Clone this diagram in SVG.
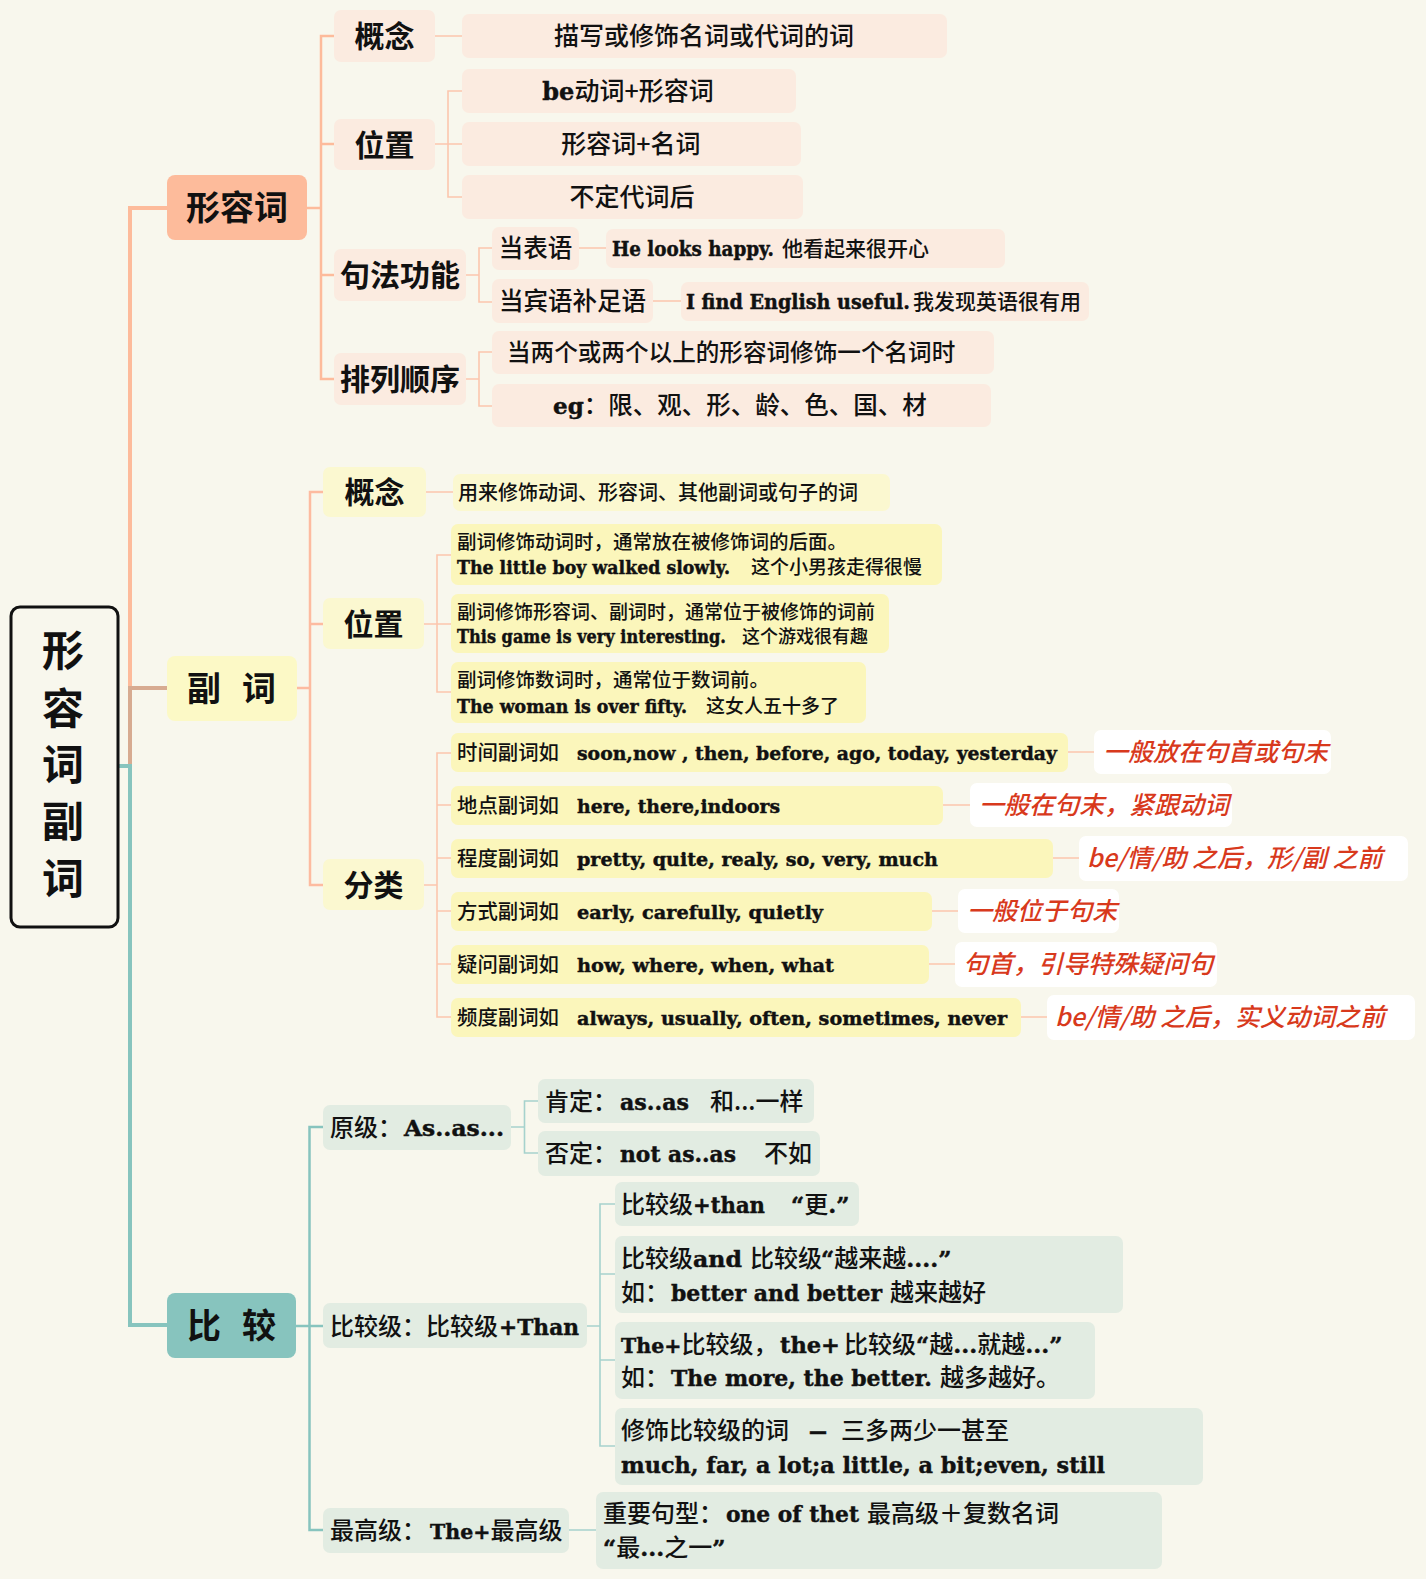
<svg xmlns="http://www.w3.org/2000/svg" width="1426" height="1579" viewBox="0 0 1426 1579">
<style>
.zh{font-family:"Noto Sans CJK SC","Noto Sans CJK JP",sans-serif;fill:#111}
.b{font-weight:700}
.m{font-weight:500}
.en{font-family:"DejaVu Serif","Noto Sans CJK SC",serif;font-weight:700;fill:#111;stroke:#111;stroke-width:0.45}
.cj{font-family:"Noto Sans CJK SC",sans-serif;font-weight:500;stroke:none}
.note{font-family:"Noto Sans CJK SC",sans-serif;font-style:italic;font-weight:500;fill:#d8391c;font-size:25px}
.fa1{fill:#fdbb9b}.fa2{fill:#fbebe0}
.fb1{fill:#fcf9c6}.fb2{fill:#fbf8d0}.fb3{fill:#fbf6bb}
.fc1{fill:#87c4be}.fc2{fill:#e2ece2}
.fn{fill:#ffffff}
.cl{fill:none;stroke-linejoin:miter}
</style>
<rect x="0" y="0" width="1426" height="1579" fill="#f8f7ed"/>

<g id="connectors">
<path class="cl" d="M167 208 H130 V688" stroke="#fdbb9b" stroke-width="4"/>
<path class="cl" d="M167 688 H130 V766" stroke="#d7ab91" stroke-width="4"/>
<path class="cl" d="M118 766 H130 V1325 H167" stroke="#87c4be" stroke-width="4"/>
<path class="cl" d="M307 208 H321 M334 36 H321 V379 H334 M321 144 H334 M321 275 H334" stroke="#fdbb9b" stroke-width="2.5"/>
<path class="cl" d="M435 36 H462 M435 144 H448 M462 91 H448 V197 H462 M448 144 H462 M466 275 H479 M492 248 H479 V302 H492 M579 248 H606 M653 301 H681 M466 379 H479 M492 352 H479 V406 H492" stroke="#fcc6ad" stroke-width="1.6"/>
<path class="cl" d="M297 688 H310 M323 492 H310 V885 H323 M310 624 H323" stroke="#fdbba0" stroke-width="2.5"/>
<path class="cl" d="M426 492 H453 M424 624 H437 M451 555 H437 V692 H451 M437 624 H451 M424 885 H437 M451 753 H437 V1017 H451 M437 805 H451 M437 858 H451 M437 911 H451 M437 964 H451 M1068 752 H1094 M943 805 H970 M1053 858 H1079 M932 911 H958 M929 964 H955 M1021 1017 H1047" stroke="#fcc6ad" stroke-width="1.6"/>
<path class="cl" d="M296 1326 H309.5 M323 1127 H309.5 V1530 H323 M309.5 1326 H323" stroke="#87c4be" stroke-width="2.5"/>
<path class="cl" d="M511 1127 H524.5 M538 1101 H524.5 V1153 H538 M587 1326 H600 M615 1204 H600 V1446 H615 M600 1274 H615 M600 1360 H615 M569 1530 H596" stroke="#a6d2cd" stroke-width="1.6"/>
</g>

<g id="root">
<rect x="11" y="607" width="107" height="320" rx="9" fill="#f8f7ed" stroke="#111" stroke-width="3"/>
<text class="zh b" font-size="42" text-anchor="middle" x="63" y="666">形</text>
<text class="zh b" font-size="42" text-anchor="middle" x="63" y="724">容</text>
<text class="zh b" font-size="42" text-anchor="middle" x="63" y="780">词</text>
<text class="zh b" font-size="42" text-anchor="middle" x="63" y="837">副</text>
<text class="zh b" font-size="42" text-anchor="middle" x="63" y="894">词</text>
</g>

<!-- 形容词 -->
<g id="adj"><rect class="fa1" x="167" y="175" width="140" height="65" rx="8"/><text class="zh b" font-size="34" text-anchor="middle" x="237" y="219.5">形容词</text></g>
<g id="adj-concept"><rect class="fa2" x="334" y="10" width="101" height="52" rx="7"/><text class="zh b" font-size="30" text-anchor="middle" x="384.5" y="47">概念</text></g>
<g id="adj-concept-1"><rect class="fa2" x="462" y="14" width="485" height="44" rx="7"/><text class="zh m" font-size="25" text-anchor="middle" x="704" y="45">描写或修饰名词或代词的词</text></g>
<g id="adj-pos"><rect class="fa2" x="334" y="119" width="101" height="51" rx="7"/><text class="zh b" font-size="30" text-anchor="middle" x="384.5" y="155.5">位置</text></g>
<g id="adj-pos-1"><rect class="fa2" x="462" y="69" width="334" height="44" rx="7"/><text class="zh m" font-size="25" text-anchor="middle" x="628" y="100"><tspan class="en" font-size="24">be</tspan>动词+形容词</text></g>
<g id="adj-pos-2"><rect class="fa2" x="462" y="122" width="339" height="44" rx="7"/><text class="zh m" font-size="25" text-anchor="middle" x="631" y="153">形容词+名词</text></g>
<g id="adj-pos-3"><rect class="fa2" x="462" y="175" width="341" height="44" rx="7"/><text class="zh m" font-size="25" text-anchor="middle" x="632" y="206">不定代词后</text></g>
<g id="adj-syn"><rect class="fa2" x="334" y="249" width="132" height="52" rx="7"/><text class="zh b" font-size="30" text-anchor="middle" x="400" y="286">句法功能</text></g>
<g id="adj-syn-1"><rect class="fa2" x="492" y="227" width="87" height="43" rx="7"/><text class="zh m" font-size="24.5" text-anchor="middle" x="535.5" y="257.3">当表语</text></g>
<g id="adj-syn-1a"><rect class="fa2" x="606" y="229" width="399" height="39" rx="7"/><text class="en" font-size="20" x="612" y="256" textLength="162" lengthAdjust="spacingAndGlyphs">He looks happy.</text><text class="zh m" font-size="21" x="782" y="256">他看起来很开心</text></g>
<g id="adj-syn-2"><rect class="fa2" x="492" y="279" width="161" height="44" rx="7"/><text class="zh m" font-size="24.5" text-anchor="middle" x="572.5" y="309.8">当宾语补足语</text></g>
<g id="adj-syn-2a"><rect class="fa2" x="681" y="282" width="408" height="39" rx="7"/><text class="en" font-size="20" x="686" y="309" textLength="224" lengthAdjust="spacingAndGlyphs">I find English useful.</text><text class="zh m" font-size="21" x="913" y="309">我发现英语很有用</text></g>
<g id="adj-order"><rect class="fa2" x="334" y="353" width="132" height="52" rx="7"/><text class="zh b" font-size="30" text-anchor="middle" x="400" y="390">排列顺序</text></g>
<g id="adj-order-1"><rect class="fa2" x="492" y="331" width="502" height="43" rx="7"/><text class="zh m" font-size="23.6" x="507" y="361">当两个或两个以上的形容词修饰一个名词时</text></g>
<g id="adj-order-2"><rect class="fa2" x="492" y="384" width="499" height="43" rx="7"/><text class="zh m" font-size="24.5" x="553" y="414"><tspan class="en" font-size="23">eg</tspan>：限、观、形、龄、色、国、材</text></g>

<!-- 副词 -->
<g id="adv"><rect class="fb1" x="167" y="656" width="130" height="65" rx="8"/><text class="zh b" font-size="34" text-anchor="middle" x="204" y="700.5">副</text><text class="zh b" font-size="34" text-anchor="middle" x="259" y="700.5">词</text></g>
<g id="adv-concept"><rect class="fb2" x="323" y="467" width="103" height="50" rx="7"/><text class="zh b" font-size="30" text-anchor="middle" x="374.5" y="503">概念</text></g>
<g id="adv-concept-1"><rect class="fb2" x="453" y="474" width="437" height="37" rx="7"/><text class="zh m" font-size="20" x="458" y="499.7">用来修饰动词、形容词、其他副词或句子的词</text></g>
<g id="adv-pos"><rect class="fb2" x="323" y="598" width="101" height="51" rx="7"/><text class="zh b" font-size="30" text-anchor="middle" x="373.5" y="634.5">位置</text></g>
<g id="adv-pos-1"><rect class="fb3" x="451" y="524" width="491" height="61" rx="7"/><text class="zh m" font-size="19.5" x="457" y="549">副词修饰动词时，通常放在被修饰词的后面。</text><text class="en" font-size="18" x="457" y="573.8" textLength="273" lengthAdjust="spacingAndGlyphs">The little boy walked slowly.</text><text class="zh m" font-size="19" x="751" y="573.8">这个小男孩走得很慢</text></g>
<g id="adv-pos-2"><rect class="fb3" x="451" y="594" width="438" height="59" rx="7"/><text class="zh m" font-size="19" x="457" y="619">副词修饰形容词、副词时，通常位于被修饰的词前</text><text class="en" font-size="18" x="457" y="642.8" textLength="269" lengthAdjust="spacingAndGlyphs">This game is very interesting.</text><text class="zh m" font-size="18" x="742" y="642.8">这个游戏很有趣</text></g>
<g id="adv-pos-3"><rect class="fb3" x="451" y="662" width="415" height="61" rx="7"/><text class="zh m" font-size="19.5" x="457" y="687">副词修饰数词时，通常位于数词前。</text><text class="en" font-size="18" x="457" y="712.8" textLength="230" lengthAdjust="spacingAndGlyphs">The woman is over fifty.</text><text class="zh m" font-size="19" x="706" y="712.8">这女人五十多了</text></g>
<g id="adv-cat"><rect class="fb2" x="323" y="859" width="101" height="51" rx="7"/><text class="zh b" font-size="30" text-anchor="middle" x="373.5" y="895.5">分类</text></g>
<g id="adv-cat-1"><rect class="fb3" x="451" y="733" width="617" height="39" rx="7"/><text class="zh m" font-size="20.4" x="457" y="760">时间副词如</text><text class="en" font-size="19" x="577" y="759.5" textLength="480" lengthAdjust="spacingAndGlyphs">soon,now , then, before, ago, today, yesterday</text></g>
<g id="adv-cat-2"><rect class="fb3" x="451" y="786" width="492" height="39" rx="7"/><text class="zh m" font-size="20.4" x="457" y="813">地点副词如</text><text class="en" font-size="19" x="577" y="812.5" textLength="203" lengthAdjust="spacingAndGlyphs">here, there,indoors</text></g>
<g id="adv-cat-3"><rect class="fb3" x="451" y="839" width="602" height="39" rx="7"/><text class="zh m" font-size="20.4" x="457" y="866">程度副词如</text><text class="en" font-size="19" x="577" y="865.5" textLength="361" lengthAdjust="spacingAndGlyphs">pretty, quite, realy, so, very, much</text></g>
<g id="adv-cat-4"><rect class="fb3" x="451" y="892" width="481" height="39" rx="7"/><text class="zh m" font-size="20.4" x="457" y="919">方式副词如</text><text class="en" font-size="19" x="577" y="918.5" textLength="246" lengthAdjust="spacingAndGlyphs">early, carefully, quietly</text></g>
<g id="adv-cat-5"><rect class="fb3" x="451" y="945" width="478" height="39" rx="7"/><text class="zh m" font-size="20.4" x="457" y="972">疑问副词如</text><text class="en" font-size="19" x="577" y="971.5" textLength="257" lengthAdjust="spacingAndGlyphs">how, where, when, what</text></g>
<g id="adv-cat-6"><rect class="fb3" x="451" y="998" width="570" height="39" rx="7"/><text class="zh m" font-size="20.4" x="457" y="1025">频度副词如</text><text class="en" font-size="19" x="577" y="1024.5" textLength="430" lengthAdjust="spacingAndGlyphs">always, usually, often, sometimes, never</text></g>
<g id="note-1"><rect class="fn" x="1094" y="730" width="237" height="44" rx="7"/><text class="note" x="1103" y="761">一般放在句首或句末</text></g>
<g id="note-2"><rect class="fn" x="970" y="783" width="262" height="44" rx="7"/><text class="note" x="979" y="814">一般在句末，紧跟动词</text></g>
<g id="note-3"><rect class="fn" x="1079" y="836" width="329" height="45" rx="7"/><text class="note" x="1087" y="867">be/情/助 之后，形/副 之前</text></g>
<g id="note-4"><rect class="fn" x="958" y="889" width="161" height="44" rx="7"/><text class="note" x="967" y="920">一般位于句末</text></g>
<g id="note-5"><rect class="fn" x="955" y="942" width="262" height="45" rx="7"/><text class="note" x="963" y="973">句首，引导特殊疑问句</text></g>
<g id="note-6"><rect class="fn" x="1047" y="995" width="368" height="45" rx="7"/><text class="note" x="1055" y="1026">be/情/助 之后，实义动词之前</text></g>

<!-- 比较 -->
<g id="cmp"><rect class="fc1" x="167" y="1293" width="129" height="65" rx="8"/><text class="zh b" font-size="34" text-anchor="middle" x="204" y="1337.5">比</text><text class="zh b" font-size="34" text-anchor="middle" x="259" y="1337.5">较</text></g>
<g id="cmp-pos"><rect class="fc2" x="323" y="1105" width="188" height="45" rx="7"/><text class="zh m" font-size="24" x="330" y="1136">原级：</text><text class="en" font-size="23" x="404" y="1136" textLength="100" lengthAdjust="spacingAndGlyphs">As..as...</text></g>
<g id="cmp-pos-1"><rect class="fc2" x="538" y="1079" width="276" height="44" rx="7"/><text class="zh m" font-size="24" x="545" y="1109.6">肯定：</text><text class="en" font-size="23" x="620" y="1109.6" textLength="69" lengthAdjust="spacingAndGlyphs">as..as</text><text class="zh m" font-size="24" x="710" y="1109.6">和...一样</text></g>
<g id="cmp-pos-2"><rect class="fc2" x="538" y="1131" width="282" height="45" rx="7"/><text class="zh m" font-size="24" x="545" y="1162">否定：</text><text class="en" font-size="23" x="620" y="1162" textLength="116" lengthAdjust="spacingAndGlyphs">not as..as</text><text class="zh m" font-size="24" x="764" y="1162">不如</text></g>
<g id="cmp-comp"><rect class="fc2" x="323" y="1303" width="264" height="45" rx="7"/><text class="zh m" font-size="24" x="330" y="1334.6">比较级：比较级</text><text class="en" font-size="23" x="499" y="1334.6" textLength="80" lengthAdjust="spacingAndGlyphs">+Than</text></g>
<g id="cmp-comp-1"><rect class="fc2" x="615" y="1182" width="244" height="44" rx="7"/><text class="zh m" font-size="24" x="621" y="1212.6">比较级</text><text class="en" font-size="23" x="693" y="1212.6" textLength="72" lengthAdjust="spacingAndGlyphs">+than</text><text class="en" font-size="23" x="791" y="1212.6">“<tspan class="cj" font-size="24">更</tspan>.”</text></g>
<g id="cmp-comp-2"><rect class="fc2" x="615" y="1236" width="508" height="77" rx="7"/><text class="zh m" font-size="24" x="621" y="1266.6">比较级</text><text class="en" font-size="23" x="693" y="1266.6" textLength="49" lengthAdjust="spacingAndGlyphs">and</text><text class="zh m" font-size="24" x="750" y="1266.6">比较级</text><text class="en" font-size="23" x="821" y="1266.6">“<tspan class="cj" font-size="24">越来越</tspan>....”</text><text class="zh m" font-size="24" x="621" y="1300.6">如：</text><text class="en" font-size="23" x="671" y="1300.6" textLength="211" lengthAdjust="spacingAndGlyphs">better and better</text><text class="zh m" font-size="24" x="890" y="1300.6">越来越好</text></g>
<g id="cmp-comp-3"><rect class="fc2" x="615" y="1322" width="480" height="77" rx="7"/><text class="en" font-size="20.5" x="621" y="1352.6">The+<tspan class="cj" font-size="24">比较级，</tspan></text><text class="en" font-size="23" x="780" y="1352.6" textLength="60" lengthAdjust="spacingAndGlyphs">the+</text><text class="zh m" font-size="24" x="844" y="1352.6">比较级</text><text class="en" font-size="23" x="916" y="1352.6">“<tspan class="cj" font-size="24">越</tspan>...<tspan class="cj" font-size="24">就越</tspan>...”</text><text class="zh m" font-size="24" x="621" y="1385.6">如：</text><text class="en" font-size="23" x="671" y="1385.6" textLength="261" lengthAdjust="spacingAndGlyphs">The more, the better.</text><text class="zh m" font-size="24" x="940" y="1385.6">越多越好。</text></g>
<g id="cmp-comp-4"><rect class="fc2" x="615" y="1408" width="588" height="77" rx="7"/><text class="zh m" font-size="24" x="621" y="1438.6">修饰比较级的词</text><text class="en" font-size="23" x="809" y="1438.6" textLength="18" lengthAdjust="spacingAndGlyphs">—</text><text class="zh m" font-size="24" x="841" y="1438.6">三多两少一甚至</text><text class="en" font-size="23" x="621" y="1472.6" textLength="484" lengthAdjust="spacingAndGlyphs">much, far, a lot;a little, a bit;even, still</text></g>
<g id="cmp-sup"><rect class="fc2" x="323" y="1508" width="246" height="45" rx="7"/><text class="zh m" font-size="24" x="330" y="1539">最高级：</text><text class="en" font-size="20.5" x="430" y="1539">The+<tspan class="cj" font-size="24">最高级</tspan></text></g>
<g id="cmp-sup-1"><rect class="fc2" x="596" y="1492" width="566" height="77" rx="7"/><text class="zh m" font-size="24" x="603" y="1521.6">重要句型：</text><text class="en" font-size="23" x="726" y="1521.6" textLength="133" lengthAdjust="spacingAndGlyphs">one of thet</text><text class="zh m" font-size="24" x="867" y="1521.6">最高级＋复数名词</text><text class="en" font-size="23" x="603" y="1555.6">“<tspan class="cj" font-size="24">最</tspan>...<tspan class="cj" font-size="24">之一</tspan>”</text></g>
</svg>
